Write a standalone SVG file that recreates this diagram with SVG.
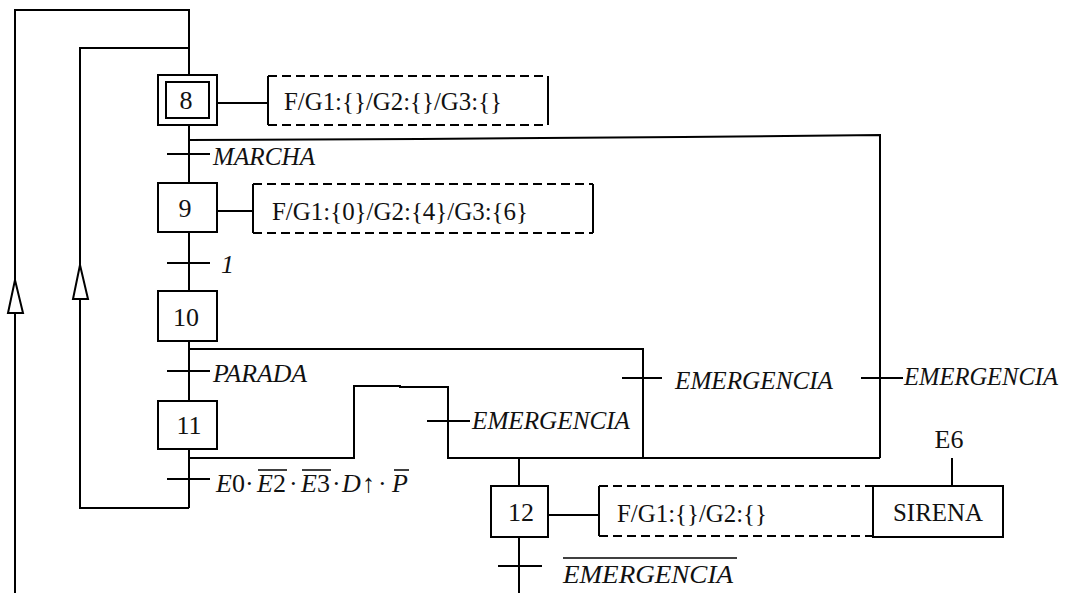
<svg xmlns="http://www.w3.org/2000/svg" width="1067" height="593" viewBox="0 0 1067 593">
<defs>
<style>
.ln{fill:none;stroke:#000;stroke-width:2}
.box{fill:#fff;stroke:#000;stroke-width:2}
.dash{fill:none;stroke:#000;stroke-width:2;stroke-dasharray:9 5}
.arr{fill:#fff;stroke:#000;stroke-width:2}
.ov{fill:none;stroke:#000;stroke-width:1.5}
</style>
</defs>
<rect width="1067" height="593" fill="#fff"/>
<g id="connectors">
<polyline class="ln" points="15,593 15,10 189,10 189,75"/>
<polyline class="ln" points="189,508 80,508 80,48 189,48"/>
<line class="ln" x1="189" y1="125" x2="189" y2="183"/>
<polyline class="ln" points="189,140 420,139 683,137 880,135 880,458"/>
<line class="ln" x1="189" y1="232" x2="189" y2="291"/>
<line class="ln" x1="189" y1="341" x2="189" y2="401"/>
<polyline class="ln" points="189,349 643,349 643,458"/>
<line class="ln" x1="189" y1="449" x2="189" y2="508"/>
<polyline class="ln" points="189,458 354,458 354,386 400,386 400,387 448,387 448,458 880,458"/>
<line class="ln" x1="519" y1="458" x2="519" y2="486"/>
<line class="ln" x1="519" y1="537" x2="519" y2="593"/>
<line class="ln" x1="217" y1="103" x2="268" y2="103"/>
<line class="ln" x1="217" y1="211" x2="253" y2="211"/>
<line class="ln" x1="548" y1="515" x2="599" y2="515"/>
<line class="ln" x1="952" y1="458" x2="952" y2="486"/>
<polygon class="arr" points="15,280 8,313 23,313"/>
<polygon class="arr" points="80,265 73,299 88,299"/>
</g>
<g id="transitions" font-family="Liberation Serif, Times New Roman, DejaVu Serif, serif" font-size="26" font-style="italic" fill="#111">
<line class="ln" x1="167" y1="154" x2="210" y2="154"/>
<text x="213" y="165" textLength="102" lengthAdjust="spacingAndGlyphs">MARCHA</text>
<line class="ln" x1="167" y1="263" x2="210" y2="263"/>
<text x="221" y="273">1</text>
<line class="ln" x1="167" y1="371" x2="210" y2="371"/>
<text x="213" y="382" textLength="94" lengthAdjust="spacingAndGlyphs">PARADA</text>
<line class="ln" x1="167" y1="479" x2="210" y2="479"/>
<text x="216" y="492">E<tspan font-style="normal">0</tspan><tspan x="245" font-style="normal">·</tspan><tspan x="257">E</tspan><tspan font-style="normal">2</tspan><tspan x="289" font-style="normal">·</tspan><tspan x="301">E</tspan><tspan font-style="normal">3</tspan><tspan x="332" font-style="normal">·</tspan><tspan x="342">D</tspan><tspan x="362" font-style="normal">↑</tspan><tspan x="378" font-style="normal">·</tspan><tspan x="392">P</tspan></text>
<line class="ov" x1="258" y1="470" x2="287" y2="470"/>
<line class="ov" x1="302" y1="470" x2="331" y2="470"/>
<line class="ov" x1="394" y1="470" x2="409" y2="470"/>
<line class="ln" x1="427" y1="421" x2="470" y2="421"/>
<text x="472" y="429" textLength="158" lengthAdjust="spacingAndGlyphs">EMERGENCIA</text>
<line class="ln" x1="622" y1="378" x2="662" y2="378"/>
<text x="675" y="389" textLength="158" lengthAdjust="spacingAndGlyphs">EMERGENCIA</text>
<line class="ln" x1="861" y1="378" x2="903" y2="378"/>
<text x="904" y="385" textLength="154" lengthAdjust="spacingAndGlyphs">EMERGENCIA</text>
<line class="ln" x1="498" y1="566" x2="542" y2="566"/>
<line class="ov" x1="563" y1="558" x2="737" y2="558"/>
<text x="563" y="583" textLength="170" lengthAdjust="spacingAndGlyphs">EMERGENCIA</text>
</g>
<g id="step8" font-family="Liberation Serif, Times New Roman, DejaVu Serif, serif" font-size="26" fill="#111">
<rect class="box" x="158" y="75" width="59" height="50"/>
<rect class="box" x="166" y="82" width="43" height="36"/>
<text x="186" y="109" text-anchor="middle">8</text>
</g>
<g id="action8" font-family="Liberation Serif, Times New Roman, DejaVu Serif, serif" font-size="26" fill="#111">
<line class="dash" x1="268" y1="76" x2="548" y2="76"/>
<line class="dash" x1="268" y1="125" x2="548" y2="125"/>
<line class="ln" x1="268" y1="76" x2="268" y2="125"/>
<line class="ln" x1="548" y1="76" x2="548" y2="125"/>
<text x="284" y="110" textLength="218" lengthAdjust="spacingAndGlyphs">F/G1:{}/G2:{}/G3:{}</text>
</g>
<g id="step9" font-family="Liberation Serif, Times New Roman, DejaVu Serif, serif" font-size="26" fill="#111">
<rect class="box" x="158" y="183" width="59" height="49"/>
<text x="185" y="217" text-anchor="middle">9</text>
</g>
<g id="action9" font-family="Liberation Serif, Times New Roman, DejaVu Serif, serif" font-size="26" fill="#111">
<line class="dash" x1="253" y1="184" x2="593" y2="184"/>
<line class="dash" x1="253" y1="233" x2="593" y2="233"/>
<line class="ln" x1="253" y1="184" x2="253" y2="233"/>
<line class="ln" x1="593" y1="184" x2="593" y2="233"/>
<text x="272" y="220" textLength="256" lengthAdjust="spacingAndGlyphs">F/G1:{0}/G2:{4}/G3:{6}</text>
</g>
<g id="step10" font-family="Liberation Serif, Times New Roman, DejaVu Serif, serif" font-size="26" fill="#111">
<rect class="box" x="158" y="291" width="59" height="50"/>
<text x="186" y="326" text-anchor="middle">10</text>
</g>
<g id="step11" font-family="Liberation Serif, Times New Roman, DejaVu Serif, serif" font-size="26" fill="#111">
<rect class="box" x="158" y="401" width="59" height="48"/>
<text x="189" y="434" text-anchor="middle">11</text>
</g>
<g id="step12" font-family="Liberation Serif, Times New Roman, DejaVu Serif, serif" font-size="26" fill="#111">
<rect class="box" x="491" y="486" width="57" height="51"/>
<text x="521" y="521" text-anchor="middle">12</text>
</g>
<g id="action12" font-family="Liberation Serif, Times New Roman, DejaVu Serif, serif" font-size="26" fill="#111">
<line class="dash" x1="599" y1="486" x2="873" y2="486"/>
<line class="dash" x1="599" y1="536" x2="873" y2="536"/>
<line class="ln" x1="599" y1="486" x2="599" y2="536"/>
<text x="617" y="522" textLength="150" lengthAdjust="spacingAndGlyphs">F/G1:{}/G2:{}</text>
</g>
<g id="sirena" font-family="Liberation Serif, Times New Roman, DejaVu Serif, serif" font-size="26" fill="#111">
<rect class="box" x="873" y="486" width="130" height="51"/>
<text x="938" y="521" text-anchor="middle" textLength="90" lengthAdjust="spacingAndGlyphs">SIRENA</text>
</g>
<g id="e6" font-family="Liberation Serif, Times New Roman, DejaVu Serif, serif" font-size="26" fill="#111">
<text x="949" y="448" text-anchor="middle">E6</text>
</g>
</svg>
